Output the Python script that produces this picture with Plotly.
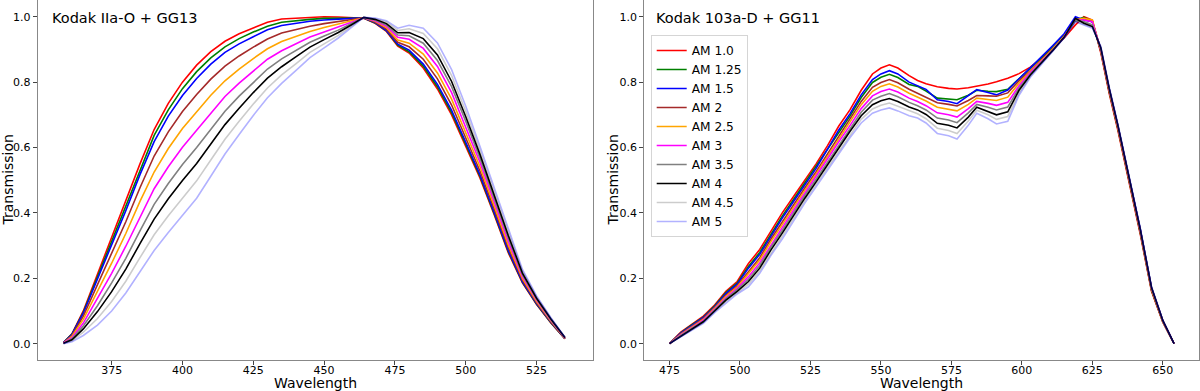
import plotly.graph_objects as go

# ---------------- data ----------------
labels = ["AM 1.0", "AM 1.25", "AM 1.5", "AM 2", "AM 2.5", "AM 3", "AM 3.5", "AM 4", "AM 4.5", "AM 5"]

# Left panel: Kodak IIa-O + GG13
left_wl = [358, 361, 365, 370, 375, 380, 385, 390, 395, 400, 405, 410, 415, 420, 425, 430, 435, 440, 445, 450,
           455, 460, 464, 468, 472, 476, 480, 485, 490, 495, 500, 505, 510, 515, 520, 525, 530, 535]
left_am10 = [.003, .03, .10, .213, .325, .435, .55, .655, .735, .80, .852, .893, .925, .948, .966, .983, .993, .996, .998, 1.0,
             .999, .998, .995, .98, .955, .91, .889, .843, .779, .70, .604, .507, .395, .278, .186, .12, .064, .015]
left_am125 = [.003, .029, .096, .205, .314, .421, .534, .637, .715, .78, .832, .874, .908, .933, .953, .971, .983, .988, .992, .995,
              .996, .997, .996, .981, .957, .913, .893, .849, .786, .707, .61, .512, .399, .282, .188, .121, .065, .015]
left_am15 = [.003, .028, .093, .197, .303, .407, .517, .618, .696, .759, .811, .855, .891, .917, .939, .96, .973, .98, .986, .99,
             .993, .995, .996, .982, .958, .916, .898, .855, .793, .714, .616, .517, .403, .285, .19, .123, .066, .016]
left_am2 = [.002, .025, .084, .179, .276, .373, .477, .574, .648, .71, .762, .809, .849, .88, .907, .932, .95, .961, .971, .979,
            .985, .992, .997, .984, .962, .922, .908, .87, .81, .73, .631, .528, .413, .294, .195, .126, .068, .016]
left_am25 = [.002, .022, .074, .158, .246, .337, .435, .525, .597, .658, .71, .76, .804, .84, .872, .902, .924, .94, .955, .967,
             .977, .988, .997, .986, .967, .929, .919, .886, .828, .748, .647, .541, .423, .303, .20, .129, .07, .017]
left_am3 = [.002, .018, .063, .137, .215, .298, .388, .474, .541, .601, .653, .706, .756, .797, .835, .87, .896, .917, .938, .953,
            .968, .984, .997, .988, .971, .937, .931, .903, .848, .768, .664, .555, .435, .313, .206, .133, .072, .017]
left_am35 = [.001, .015, .054, .116, .186, .261, .345, .426, .49, .548, .60, .657, .711, .757, .80, .84, .871, .896, .922, .941,
             .959, .981, .997, .99, .975, .944, .942, .919, .866, .786, .68, .567, .445, .323, .211, .136, .074, .018]
left_am4 = [.001, .012, .045, .098, .159, .228, .306, .381, .443, .499, .551, .611, .67, .72, .768, .812, .847, .877, .907, .93,
            .952, .977, .998, .992, .979, .951, .952, .933, .883, .802, .694, .579, .455, .331, .216, .139, .076, .019]
left_am45 = [0, .009, .035, .077, .129, .191, .263, .333, .391, .446, .498, .562, .625, .68, .733, .782, .822, .856, .891, .917,
             .943, .974, .998, .994, .984, .958, .963, .949, .902, .82, .71, .591, .465, .341, .222, .143, .078, .019]
left_am5 = [0, .006, .025, .057, .10, .155, .22, .285, .34, .393, .445, .512, .58, .64, .698, .752, .796, .835, .875, .905,
            .935, .97, .998, .996, .988, .965, .974, .965, .92, .838, .726, .604, .476, .35, .227, .146, .08, .02]

# Right panel: Kodak 103a-D + GG11
right_wl = [475, 479, 483, 487, 491, 495, 499, 503, 507, 511, 515, 519, 523, 527, 531, 535, 539, 543, 547, 550,
            553, 556, 560, 563, 566, 570, 574, 577, 581, 584, 588, 591, 595, 599, 603, 607, 611, 615, 619, 622,
            625, 628, 631, 634, 638, 642, 646, 650, 654]
right_am10 = [0, .035, .06, .084, .118, .16, .19, .245, .288, .345, .40, .45, .50, .55, .605, .665, .715, .775, .825, .843,
              .853, .843, .82, .805, .795, .786, .781, .779, .783, .787, .794, .801, .812, .826, .846, .873, .905, .935, .975, 1.0,
              .99, .89, .765, .655, .495, .335, .16, .066, 0]
right_am125 = [0, .033, .058, .081, .115, .156, .185, .236, .279, .336, .39, .441, .492, .542, .594, .646, .696, .753, .799, .815,
               .824, .814, .793, .787, .773, .751, .748, .746, .76, .775, .772, .771, .778, .81, .843, .875, .91, .945, .99, .998,
               .985, .895, .77, .66, .50, .34, .163, .067, 0]
right_am15 = [0, .032, .056, .08, .113, .153, .182, .231, .273, .33, .384, .435, .486, .536, .594, .653, .703, .761, .808, .825,
              .835, .825, .80, .79, .778, .746, .741, .734, .76, .777, .768, .761, .776, .81, .845, .876, .912, .948, 1.0, .99,
              .985, .90, .778, .668, .51, .35, .17, .07, 0]
right_am2 = [0, .030, .053, .077, .110, .148, .177, .221, .263, .32, .373, .425, .476, .526, .58, .636, .686, .741, .784, .799,
             .808, .798, .778, .766, .754, .737, .732, .727, .744, .759, .758, .757, .767, .804, .835, .867, .902, .94, .99, .995,
             .985, .895, .772, .662, .502, .342, .165, .068, 0]
right_am25 = [0, .028, .051, .074, .108, .145, .173, .214, .256, .312, .365, .417, .469, .519, .572, .628, .678, .731, .772, .787,
              .795, .785, .766, .754, .742, .723, .717, .712, .732, .751, .747, .744, .754, .797, .832, .865, .901, .94, .99, .995,
              .99, .898, .775, .665, .505, .345, .167, .069, 0]
right_am3 = [0, .027, .049, .072, .105, .14, .169, .205, .247, .303, .355, .408, .461, .511, .563, .617, .667, .719, .758, .771,
             .779, .770, .751, .741, .728, .706, .70, .693, .719, .741, .735, .729, .738, .789, .829, .863, .899, .938, .99, .99,
             .985, .90, .777, .667, .507, .347, .169, .07, 0]
right_am35 = [0, .025, .047, .069, .103, .137, .165, .197, .239, .295, .346, .40, .453, .503, .555, .608, .658, .708, .745, .757,
              .765, .755, .738, .728, .715, .69, .684, .676, .706, .732, .723, .715, .724, .782, .825, .861, .898, .937, .988, .985,
              .975, .902, .779, .669, .509, .349, .17, .07, 0]
right_am4 = [0, .023, .044, .067, .10, .133, .16, .19, .231, .287, .338, .392, .445, .495, .547, .599, .649, .697, .731, .743,
             .75, .741, .724, .715, .701, .674, .668, .66, .693, .723, .711, .70, .709, .775, .822, .859, .897, .937, .995, .98,
             .97, .905, .78, .67, .51, .35, .172, .071, 0]
right_am45 = [0, .022, .042, .064, .098, .129, .156, .182, .223, .278, .329, .383, .438, .488, .538, .589, .639, .686, .718, .729,
              .736, .726, .711, .703, .688, .659, .652, .643, .681, .714, .70, .686, .695, .767, .818, .857, .896, .936, .986, .978,
              .968, .908, .782, .672, .512, .352, .173, .071, 0]
right_am5 = [0, .02, .04, .062, .095, .125, .152, .174, .215, .27, .32, .375, .43, .48, .53, .58, .63, .675, .705, .715,
             .721, .712, .697, .69, .675, .643, .636, .626, .668, .705, .688, .672, .68, .76, .815, .855, .895, .935, .985, .975,
             .965, .91, .785, .675, .515, .355, .175, .072, 0]

left_title = "Kodak IIa-O + GG13"
right_title = "Kodak 103a-D + GG11"
x_ticks_left = [375, 400, 425, 450, 475, 500, 525]
x_ticks_right = [475, 500, 525, 550, 575, 600, 625, 650]
y_ticks = [0.0, 0.2, 0.4, 0.6, 0.8, 1.0]

left_series = [left_am10, left_am125, left_am15, left_am2, left_am25, left_am3, left_am35, left_am4, left_am45, left_am5]
right_series = [right_am10, right_am125, right_am15, right_am2, right_am25, right_am3, right_am35, right_am4, right_am45, right_am5]

# ---------------- style ----------------
colors = ["#ff0000", "#008000", "#0000ff", "#a52a2a", "#ffa500", "#ff00ff", "#808080", "#000000",
          "rgba(0,0,0,0.2)", "rgba(0,0,255,0.3)"]
FONT = "DejaVu Sans"
W, H = 1200, 391

fig = go.Figure()
for lab, ys, c in zip(labels, left_series, colors):
    fig.add_trace(go.Scatter(x=left_wl, y=ys, mode="lines", name=lab, showlegend=False,
                             line=dict(color=c, width=1.6), xaxis="x", yaxis="y"))
for lab, ys, c in zip(labels, right_series, colors):
    fig.add_trace(go.Scatter(x=right_wl, y=ys, mode="lines", name=lab, showlegend=True,
                             line=dict(color=c, width=1.6), xaxis="x2", yaxis="y2"))

ydom = [31 / H, 0.999]
axis_common = dict(showline=True, mirror=True, linecolor="#888888", linewidth=1, ticks="outside",
                   ticklen=4, tickwidth=1, tickcolor="#444444", showgrid=False, zeroline=False,
                   tickfont=dict(family=FONT, size=11, color="black"))

fig.update_layout(
    width=W, height=H, margin=dict(l=0, r=0, t=0, b=0),
    paper_bgcolor="white", plot_bgcolor="white",
    xaxis=dict(domain=[37.7 / W, 592.7 / W], range=[348.9, 544.8], tickvals=x_ticks_left, anchor="y",
               ticklabelstandoff=-4, **axis_common),
    yaxis=dict(domain=ydom, range=[-0.05, 1.05], tickvals=y_ticks, tickformat=".1f", anchor="x", **axis_common),
    xaxis2=dict(domain=[644.3 / W, 1199.3 / W], range=[466.05, 662.95], tickvals=x_ticks_right, anchor="y2",
                ticklabelstandoff=-4, **axis_common),
    yaxis2=dict(domain=ydom, range=[-0.05, 1.05], tickvals=y_ticks, tickformat=".1f", anchor="x2", **axis_common),
    legend=dict(x=650.7 / W, y=1 - 35 / H, xanchor="left", yanchor="top",
                font=dict(family=FONT, size=12.2, color="black"),
                bgcolor="rgba(255,255,255,0.8)", bordercolor="#d5d5d5", borderwidth=1, itemwidth=30),
    font=dict(family=FONT, color="black"),
)

ann_font = dict(family=FONT, size=14, color="black")
fig.add_annotation(text="Wavelength", x=315.2 / W, y=(H - 382.5) / H, xref="paper", yref="paper",
                   showarrow=False, xanchor="center", yanchor="middle", font=ann_font)
fig.add_annotation(text="Wavelength", x=921.8 / W, y=(H - 382.5) / H, xref="paper", yref="paper",
                   showarrow=False, xanchor="center", yanchor="middle", font=ann_font)
fig.add_annotation(text="Transmission", x=7.5 / W, y=(H - 180) / H, xref="paper", yref="paper",
                   showarrow=False, xanchor="center", yanchor="middle", textangle=-90, font=ann_font)
fig.add_annotation(text="Transmission", x=612.5 / W, y=(H - 180) / H, xref="paper", yref="paper",
                   showarrow=False, xanchor="center", yanchor="middle", textangle=-90, font=ann_font)
fig.add_annotation(text=left_title, x=49.5 / W, y=(H - 18) / H, xref="paper", yref="paper",
                   showarrow=False, xanchor="left", yanchor="middle", font=dict(family=FONT, size=14.5, color="black"))
fig.add_annotation(text=right_title, x=654 / W, y=(H - 17.5) / H, xref="paper", yref="paper",
                   showarrow=False, xanchor="left", yanchor="middle", font=dict(family=FONT, size=14.5, color="black"))

fig.write_html(
    "out.html",
    config={"displayModeBar": False},
    post_script="document.body.style.margin='0';document.body.style.padding='0';"
                "document.documentElement.style.overflow='hidden';",
)
